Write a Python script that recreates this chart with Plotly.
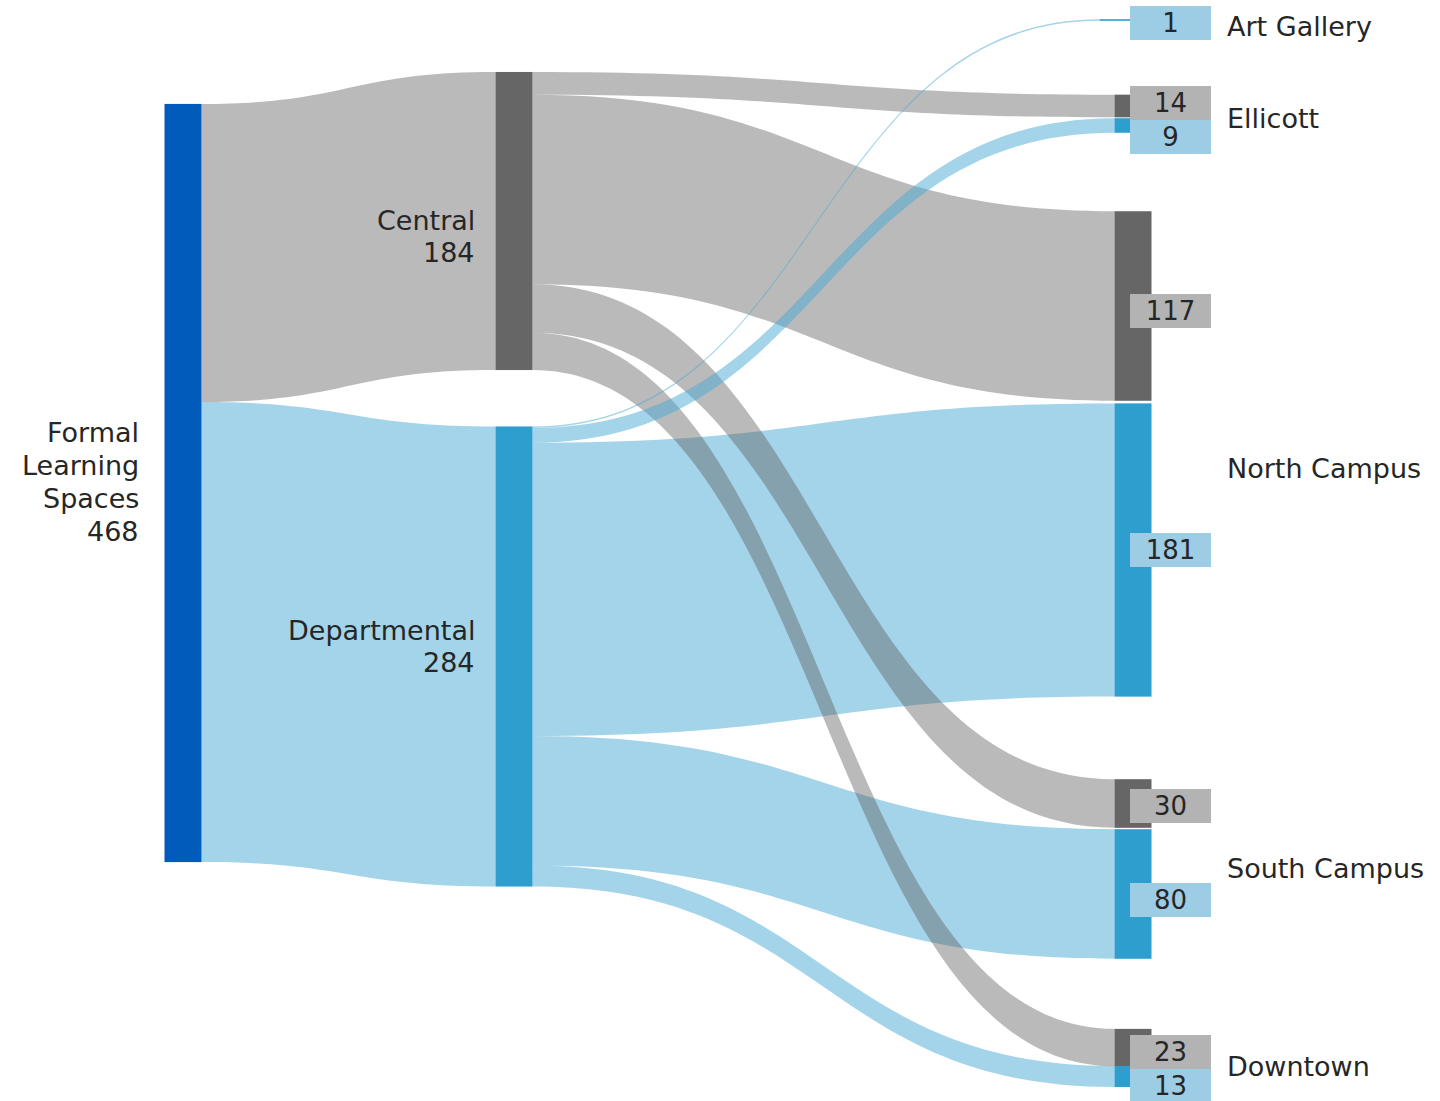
import plotly.graph_objects as go

# ---- data -------------------------------------------------------------
root_label = "Formal Learning Spaces"
root_total = 468

owner_labels = ["Central", "Departmental"]
owner_totals = [184, 284]

campuses = ["Art Gallery", "Ellicott", "North Campus", "South Campus", "Downtown"]
central_counts = [0, 14, 117, 30, 23]
departmental_counts = [1, 9, 181, 80, 13]

# ---- figure geometry & styles ----------------------------------------
W, H = 1440, 1101
KY = 1.62           # px per learning space
THICK = 37
FONT = "DejaVu Sans"
TXT = "#262626"

ROOT_COLOR = "#005bbb"
OWNER_NODE_COLORS = ["#666666", "#2e9ecf"]
OWNER_LINK_COLORS = ["rgba(95,95,95,0.43)", "rgba(71,169,211,0.50)"]
OWNER_BOX_COLORS = ["#b3b3b3", "#9dcde4"]

# node centres in pixels
root_pos = (183, 483)
owner_pos = [(514, 221), (514, 656.5)]
right_x = 1133
campus_node_y = {
    ("Art Gallery", 1): 20,
    ("Ellicott", 0): 106, ("Ellicott", 1): 125.5,
    ("North Campus", 0): 306, ("North Campus", 1): 550,
    ("South Campus", 0): 803.5, ("South Campus", 1): 894,
    ("Downtown", 0): 1047.5, ("Downtown", 1): 1076.5,
}
campus_node_x = {("Art Gallery", 1): 1118}
# value boxes (centre y) and campus label y
box_y = {
    ("Art Gallery", 1): 23,
    ("Ellicott", 0): 103, ("Ellicott", 1): 137,
    ("North Campus", 0): 311, ("North Campus", 1): 549.5,
    ("South Campus", 0): 805.5, ("South Campus", 1): 899.5,
    ("Downtown", 0): 1052, ("Downtown", 1): 1086,
}
campus_label_y = {"Art Gallery": 26, "Ellicott": 118, "North Campus": 468,
                  "South Campus": 868, "Downtown": 1066}

# ---- build nodes & links ---------------------------------------------
node_x, node_y, node_colors, node_names = [], [], [], []

def add_node(name, px, py, color):
    node_names.append(name)
    node_x.append(px / W)
    node_y.append(py / H)
    node_colors.append(color)
    return len(node_names) - 1

root_idx = add_node(root_label, *root_pos, ROOT_COLOR)
owner_idx = [add_node(lbl, *owner_pos[k], OWNER_NODE_COLORS[k])
             for k, lbl in enumerate(owner_labels)]

src, tgt, val, lcol = [], [], [], []
for k in range(2):
    src.append(root_idx); tgt.append(owner_idx[k]); val.append(owner_totals[k])
    lcol.append(OWNER_LINK_COLORS[k])

counts = [central_counts, departmental_counts]
campus_links = []
campus_nodes = []
for ci, campus in enumerate(campuses):
    for k in range(2):
        v = counts[k][ci]
        if v <= 0:
            continue
        px = campus_node_x.get((campus, k), right_x)
        idx = add_node(f"{campus} ({owner_labels[k]})", px,
                       campus_node_y[(campus, k)], OWNER_NODE_COLORS[k])
        campus_nodes.append((campus, k, v))
        campus_links.append((k, idx, v, campus))

# draw order: big departmental flows underneath, then central, then thin departmental ones
def draw_rank(item):
    k, idx, v, campus = item
    if k == 1 and campus in ("North Campus", "South Campus", "Downtown"):
        return 0
    if k == 0:
        return 1
    return 2

for k, idx, v, campus in sorted(campus_links, key=draw_rank):
    src.append(owner_idx[k]); tgt.append(idx); val.append(v)
    lcol.append(OWNER_LINK_COLORS[k])

n_right = len(campus_nodes)
pad = (H - KY * root_total) / (n_right - 1)

fig = go.Figure(go.Sankey(
    arrangement="fixed",
    domain=dict(x=[0, 1], y=[0, 1]),
    node=dict(
        label=[""] * len(node_names),
        customdata=node_names,
        hovertemplate="%{customdata}: %{value}<extra></extra>",
        x=node_x, y=node_y,
        color=node_colors,
        thickness=THICK,
        pad=pad,
        line=dict(width=0),
    ),
    link=dict(source=src, target=tgt, value=val, color=lcol),
))

ann = []

def text(t, x, y, xanchor, size=27):
    ann.append(dict(text=t, x=x / W, y=1 - y / H, xref="paper", yref="paper",
                    xanchor=xanchor, yanchor="middle", showarrow=False,
                    font=dict(family=FONT, size=size, color=TXT)))

# left-hand labels, one line each
root_lines = root_label.split(" ") + [str(root_total)]
for i, line in enumerate(root_lines):
    text(line, 141, 432 + 33 * i, "right")
owner_label_y = [220, 630]
for k, lbl in enumerate(owner_labels):
    text(lbl, 477, owner_label_y[k], "right")
    text(str(owner_totals[k]), 477, owner_label_y[k] + 32, "right")

# value boxes
for campus, k, v in campus_nodes:
    ann.append(dict(text=str(v), x=1130 / W, y=1 - box_y[(campus, k)] / H,
                    xref="paper", yref="paper", xanchor="left", yanchor="middle",
                    showarrow=False, width=81, height=34, borderpad=0, borderwidth=0,
                    bgcolor=OWNER_BOX_COLORS[k], align="center", valign="middle",
                    font=dict(family=FONT, size=26, color=TXT)))

# campus names
for campus in campuses:
    text(campus, 1225, campus_label_y[campus], "left")

fig.update_layout(
    width=W, height=H,
    margin=dict(l=0, r=0, t=0, b=0),
    paper_bgcolor="white",
    annotations=ann,
    font=dict(family=FONT),
)

fig.write_html("out.html")
